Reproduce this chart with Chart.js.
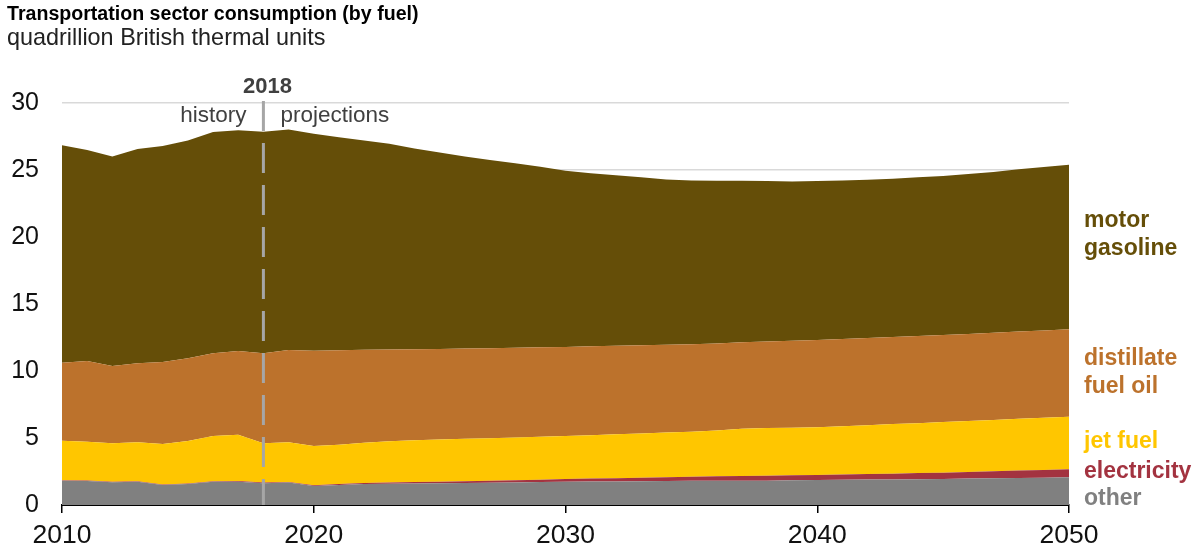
<!DOCTYPE html>
<html lang="en">
<head>
  <meta charset="UTF-8">
  <title>Transportation sector consumption (by fuel)</title>
  <script src="https://cdn.jsdelivr.net/npm/chart.js"></script>
  <style>
    html, body {
      margin: 0;
      padding: 0;
      background: #fff;
      font-family: "Liberation Sans", Arial, sans-serif;
    }
    #wrap {
      position: relative;
      width: 1196px;
      height: 550px;
    }
    #wrap canvas {
      position: absolute;
      left: 0;
      top: 0;
    }
    .title {
      position: absolute;
      left: 7px;
      top: 1px;
      font-size: 19.6px;
      line-height: 24px;
      font-weight: bold;
      color: #000;
    }
    .subtitle {
      position: absolute;
      left: 7px;
      top: 24px;
      font-size: 23.4px;
      line-height: 26px;
      color: #222;
    }
    .lbl {
      position: absolute;
      left: 1084px;
      font-size: 23px;
      line-height: 28px;
      font-weight: bold;
    }
  </style>
</head>
<body>
  <div id="wrap">
    <canvas id="chart" width="1196" height="550"></canvas>
    <div class="title">Transportation sector consumption (by fuel)</div>
    <div class="subtitle">quadrillion British thermal units</div>
    <div class="lbl" style="top:205px;color:#654e08">motor<br>gasoline</div>
    <div class="lbl" style="top:343px;color:#bc722c">distillate<br>fuel oil</div>
    <div class="lbl" style="top:426px;color:#ffc600">jet fuel</div>
    <div class="lbl" style="top:456px;color:#a33340">electricity</div>
    <div class="lbl" style="top:483px;color:#808080">other</div>
  </div>
  <script>
    // années 2010-2050 (historique jusqu'à 2018, projections ensuite)
    const years = [
      2010, 2011, 2012, 2013, 2014, 2015, 2016, 2017, 2018, 2019,
      2020, 2021, 2022, 2023, 2024, 2025, 2026, 2027, 2028, 2029,
      2030, 2031, 2032, 2033, 2034, 2035, 2036, 2037, 2038, 2039,
      2040, 2041, 2042, 2043, 2044, 2045, 2046, 2047, 2048, 2049, 2050
    ];
    const other = [
      1.81, 1.79, 1.69, 1.74, 1.49, 1.57, 1.74, 1.74, 1.62, 1.67,
      1.42, 1.49, 1.57, 1.58, 1.60, 1.62, 1.64, 1.66, 1.68, 1.71,
      1.74, 1.75, 1.76, 1.78, 1.79, 1.81, 1.81, 1.81, 1.81, 1.84,
      1.87, 1.88, 1.90, 1.91, 1.93, 1.94, 1.97, 1.99, 2.02, 2.04, 2.07
    ];
    const electricity = [
      0.04, 0.04, 0.04, 0.04, 0.04, 0.04, 0.04, 0.05, 0.05, 0.05,
      0.06, 0.07, 0.08, 0.10, 0.11, 0.12, 0.13, 0.15, 0.16, 0.18,
      0.20, 0.22, 0.24, 0.26, 0.28, 0.30, 0.33, 0.36, 0.38, 0.38,
      0.37, 0.39, 0.41, 0.43, 0.45, 0.47, 0.50, 0.52, 0.55, 0.57, 0.59
    ];
    const jetFuel = [
      2.95, 2.89, 2.87, 2.90, 3.02, 3.17, 3.37, 3.46, 2.93, 2.96,
      2.92, 2.94, 3.00, 3.07, 3.12, 3.14, 3.17, 3.18, 3.20, 3.21,
      3.21, 3.24, 3.28, 3.30, 3.34, 3.36, 3.42, 3.52, 3.55, 3.55,
      3.56, 3.61, 3.65, 3.70, 3.73, 3.78, 3.80, 3.84, 3.86, 3.90, 3.93
    ];
    const distillate = [
      5.82, 6.02, 5.77, 5.89, 6.12, 6.17, 6.17, 6.24, 6.72, 6.89,
      7.12, 7.04, 6.93, 6.85, 6.79, 6.76, 6.73, 6.71, 6.69, 6.67,
      6.65, 6.63, 6.60, 6.58, 6.55, 6.53, 6.50, 6.45, 6.46, 6.48,
      6.51, 6.50, 6.50, 6.50, 6.51, 6.50, 6.50, 6.50, 6.51, 6.52, 6.53
    ];
    const motorGasoline = [
      16.22, 15.76, 15.63, 16.00, 16.13, 16.25, 16.52, 16.47, 16.54, 16.46,
      16.18, 15.91, 15.62, 15.35, 14.98, 14.66, 14.33, 14.05, 13.77, 13.48,
      13.15, 12.91, 12.72, 12.53, 12.34, 12.22, 12.14, 12.06, 11.98, 11.90,
      11.87, 11.84, 11.82, 11.81, 11.83, 11.86, 11.93, 12.00, 12.11, 12.19, 12.28
    ];
    const splitYear = 2018;

    const pts = arr => years.map((yr, i) => ({ x: yr, y: arr[i] }));

    function area(label, arr, color, fill) {
      return {
        label: label,
        data: pts(arr),
        backgroundColor: color,
        borderColor: color,
        borderWidth: 0,
        pointRadius: 0,
        tension: 0,
        fill: fill
      };
    }

    // ligne pointillée 2018 + textes history / projections
    const splitPlugin = {
      id: 'split',
      afterDatasetsDraw(chart) {
        const ctx = chart.ctx;
        const xs = chart.scales.x;
        const ys = chart.scales.y;
        const x = xs.getPixelForValue(splitYear);
        ctx.save();
        ctx.strokeStyle = '#a6a6a6';
        ctx.lineWidth = 3;
        ctx.setLineDash([30, 12]);
        ctx.beginPath();
        ctx.moveTo(x, ys.getPixelForValue(30) - 2);
        ctx.lineTo(x, ys.getPixelForValue(0));
        ctx.stroke();
        ctx.setLineDash([]);
        ctx.fillStyle = '#404040';
        ctx.textBaseline = 'alphabetic';
        ctx.font = 'bold 22px "Liberation Sans", Arial, sans-serif';
        ctx.textAlign = 'center';
        ctx.fillText(String(splitYear), x + 4, 93);
        ctx.font = '22.5px "Liberation Sans", Arial, sans-serif';
        ctx.textAlign = 'right';
        ctx.fillText('history', x - 17, 122);
        ctx.textAlign = 'left';
        ctx.fillText('projections', x + 17, 122);
        ctx.restore();
      }
    };

    new Chart(document.getElementById('chart').getContext('2d'), {
      type: 'line',
      data: {
        datasets: [
          area('other', other, '#808080', 'origin'),
          area('electricity', electricity, '#a33340', '-1'),
          area('jet fuel', jetFuel, '#ffc600', '-1'),
          area('distillate fuel oil', distillate, '#bc722c', '-1'),
          area('motor gasoline', motorGasoline, '#654e08', '-1')
        ]
      },
      options: {
        responsive: false,
        animation: false,
        layout: { padding: { top: 103, right: 127, bottom: 0, left: 0 } },
        plugins: {
          legend: { display: false },
          tooltip: { enabled: false }
        },
        scales: {
          x: {
            type: 'linear',
            min: 2010,
            max: 2050,
            afterFit: s => { s.height = 45; },
            ticks: {
              stepSize: 10,
              padding: 7,
              color: '#111',
              font: { size: 26.5, family: '"Liberation Sans", Arial, sans-serif' },
              callback: v => String(v)
            },
            grid: {
              drawOnChartArea: false,
              drawTicks: true,
              tickLength: 8,
              color: '#000',
              lineWidth: 1.5
            },
            border: { display: true, color: '#000', width: 2 }
          },
          y: {
            stacked: true,
            min: 0,
            max: 30,
            afterFit: s => { s.width = 62; },
            ticks: {
              stepSize: 5,
              padding: 23,
              color: '#111',
              font: { size: 25, family: '"Liberation Sans", Arial, sans-serif' }
            },
            grid: {
              color: '#d9d9d9',
              lineWidth: 1.5,
              drawTicks: false
            },
            border: { display: false }
          }
        }
      },
      plugins: [splitPlugin]
    });
  </script>
</body>
</html>
